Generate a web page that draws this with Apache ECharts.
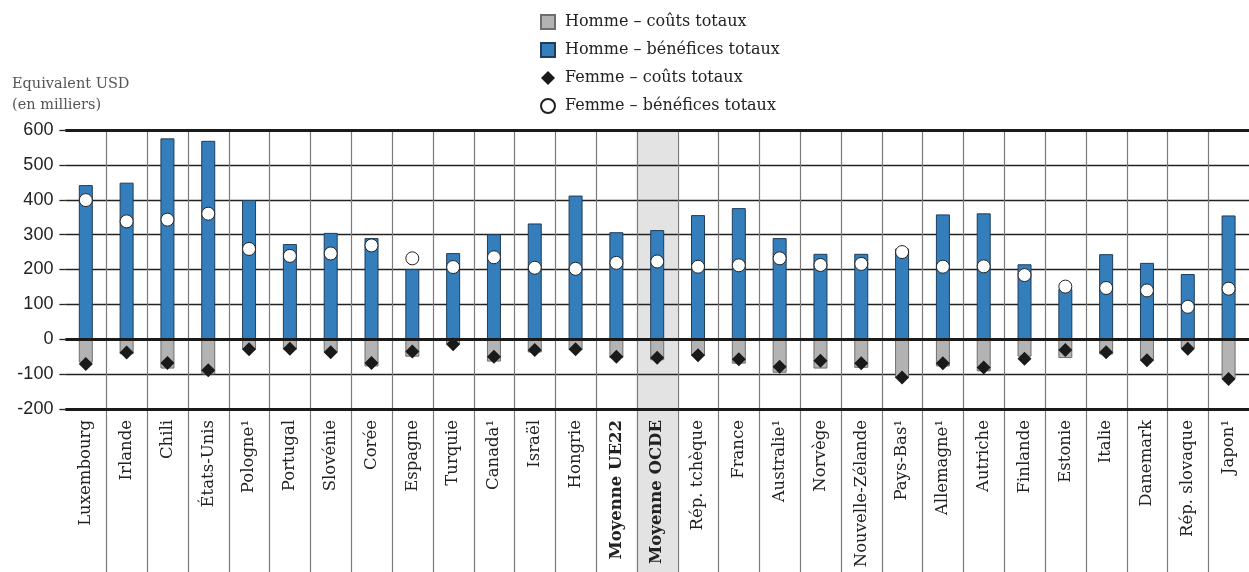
<!DOCTYPE html>
<html><head><meta charset="utf-8">
<script src="https://cdn.jsdelivr.net/npm/echarts@6/dist/echarts.min.js"></script>
<style>html,body{margin:0;padding:0;background:#fff}#c{width:1249px;height:572px}</style>
</head><body><div id="c"></div><script>
const categories = ['Luxembourg','Irlande','Chili','États-Unis','Pologne¹','Portugal','Slovénie','Corée','Espagne','Turquie','Canada¹','Israël','Hongrie','Moyenne UE22','Moyenne OCDE','Rép. tchèque','France','Australie¹','Norvège','Nouvelle-Zélande','Pays-Bas¹','Allemagne¹','Autriche','Finlande','Estonie','Italie','Danemark','Rép. slovaque','Japon¹'];
const hommeBenefices = [442,449,576,569,399,273,305,290,201,247,301,332,412,307,313,356,376,290,245,245,260,358,361,215,144,244,219,187,355];
const hommeCouts = [-67,-43,-84,-101,-30,-30,-38,-78,-50,-15,-64,-38,-31,-54,-60,-48,-70,-96,-84,-82,-112,-78,-92,-50,-54,-44,-61,-27,-114];
const femmeCouts = [-71,-38,-68,-89,-29,-27,-37,-68,-35,-14,-50,-31,-29,-50,-53,-46,-57,-79,-62,-69,-110,-69,-81,-56,-31,-37,-60,-27,-114];
const femmeBenefices = [399,338,343,360,259,239,246,269,232,207,235,205,202,219,223,208,212,232,213,216,250,208,209,184,151,147,140,93,145];
const yMin = -200, yMax = 600, yStep = 100;
const boldLines = [600, 0, -200];
const highlighted = 'Moyenne OCDE';
const yTitle = 'Equivalent USD\n(en milliers)';
const seriesNames = ['Homme – coûts totaux','Homme – bénéfices totaux','Femme – coûts totaux','Femme – bénéfices totaux'];

const SERIF = 'DejaVu Serif';
const chart = echarts.init(document.getElementById('c'), null, {renderer:'canvas'});
const sepData = categories.slice(0, -1).map((c, i) => [i, yMax]);
const bandData = [[categories.indexOf(highlighted), yMax]];

chart.setOption({
  animation: false,
  backgroundColor: '#fff',
  title: {
    text: yTitle, left: 12, top: 74, padding: 0,
    textStyle: {fontFamily: SERIF, fontSize: 14.5, fontWeight: 'normal', color: '#555', lineHeight: 21}
  },
  legend: {
    orient: 'vertical', left: 540, top: 14, padding: 0, itemGap: 12, itemWidth: 14, itemHeight: 14,
    textStyle: {fontFamily: SERIF, fontSize: 16, color: '#222', padding: [0, 0, 0, 5]},
    data: [
      {name: seriesNames[0], icon: 'rect'},
      {name: seriesNames[1], icon: 'rect'},
      {name: seriesNames[2]},
      {name: seriesNames[3]}
    ],
    selectedMode: false
  },
  grid: {left: 65.4, right: -2, top: 130, bottom: 163, containLabel: false},
  xAxis: {
    type: 'category', data: categories,
    axisLine: {show: false}, axisTick: {show: false}, splitLine: {show: false},
    axisLabel: {
      rotate: 90, margin: 11, interval: 0, color: '#222',
      fontFamily: SERIF, fontSize: 16.5,
      formatter: v => v.startsWith('Moyenne') ? '{b|' + v + '}' : v,
      rich: {b: {fontFamily: SERIF, fontSize: 16.5, fontWeight: 'bold', color: '#222'}}
    }
  },
  yAxis: {
    type: 'value', min: yMin, max: yMax, interval: yStep,
    axisLine: {show: false},
    axisTick: {show: true, length: 6, lineStyle: {color: '#222', width: 1.3}},
    axisLabel: {margin: 12, color: '#222', fontFamily: 'Liberation Sans', fontSize: 18},
    splitLine: {show: true, lineStyle: {color: '#222', width: 1.3}}
  },
  series: [
    {
      type: 'custom', z: -1, silent: true, clip: false, data: bandData, encode: {x: 0, y: 1},
      renderItem: (params, api) => {
        const p = api.coord([api.value(0), api.value(1)]);
        const bw = api.size([1, 0])[0];
        return {type: 'rect', shape: {x: p[0] - bw / 2, y: p[1], width: bw, height: api.getHeight() - p[1]},
          style: {fill: '#e3e3e3'}};
      }
    },
    {
      name: seriesNames[0], type: 'bar', stack: 'h', barWidth: 14, data: hommeCouts,
      itemStyle: {color: '#b3b3b3', borderColor: '#6e6e6e', borderWidth: 1}
    },
    {
      name: seriesNames[1], type: 'bar', stack: 'h', barWidth: 14, data: hommeBenefices,
      itemStyle: {color: '#337ebb', borderColor: '#1f3d5c', borderWidth: 1},
      markLine: {
        silent: true, symbol: 'none', label: {show: false},
        lineStyle: {color: '#1a1a1a', width: 3, type: 'solid'},
        data: boldLines.map(v => ({yAxis: v}))
      }
    },
    {
      name: seriesNames[2], type: 'scatter', symbol: 'diamond', symbolSize: 14, data: femmeCouts, z: 5,
      itemStyle: {color: '#1a1a1a', borderColor: '#1a1a1a', borderWidth: 0, opacity: 1}
    },
    {
      name: seriesNames[3], type: 'scatter', symbol: 'circle', symbolSize: 13, data: femmeBenefices, z: 5,
      itemStyle: {color: '#fff', borderColor: '#222', borderWidth: 1, opacity: 1}
    },
    {
      type: 'custom', z: 3, silent: true, clip: false, data: sepData, encode: {x: 0, y: 1},
      renderItem: (params, api) => {
        const p = api.coord([api.value(0), api.value(1)]);
        const bw = api.size([1, 0])[0];
        const x = Math.round(p[0] + bw / 2) + 0.5;
        return {type: 'line', shape: {x1: x, y1: p[1], x2: x, y2: api.getHeight()},
          style: {stroke: '#7a7a7a', lineWidth: 1.2}};
      }
    }
  ]
});
</script></body></html>
